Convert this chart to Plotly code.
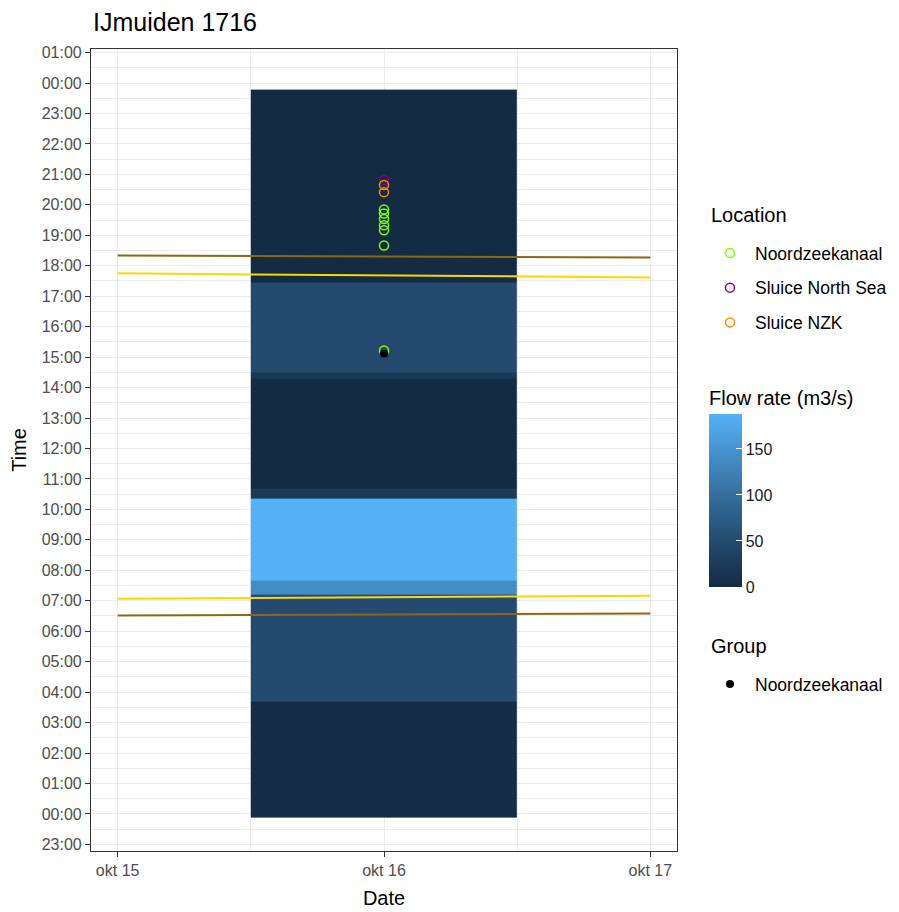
import pandas as pd
import plotly.graph_objects as go

# ---------------- data ----------------
title_text = "IJmuiden 1716"
day_ticks = ["2023-10-15", "2023-10-16", "2023-10-17"]
day_labels = ["okt 15", "okt 16", "okt 17"]
half_days = ["2023-10-15 12:00", "2023-10-16 12:00"]

# flow-rate tiles on okt 16 (edges in minutes after midnight, values m3/s)
tile_x_edges = ["2023-10-15 12:00", "2023-10-16 12:00"]
tile_edges_min = [-7, 222, 433, 460, 622, 641, 857, 869, 1046, 1427]
tile_flow = [2, 50, 139, 188, 25, 0, 22, 50, 0]

# observation points (minutes after midnight) on okt 16
obs_date = "2023-10-16"
noord_min = [1191, 1183, 1172, 1160, 1150, 1120, 913]
north_sea_min = [1249]
sluice_nzk_min = [1239, 1225]
group_min = [907]

# tide lines: start okt 15 -> end okt 17 (minutes after midnight)
line_x = ["2023-10-15", "2023-10-17"]
hw_brown_upper = [1100, 1096]
hw_gold_upper = [1065, 1057]
lw_gold_lower = [424, 430]
lw_brown_lower = [391, 395]

# ---------------- helpers ----------------
BASE = pd.Timestamp("2000-01-01")


def tod(mins):
    return [(BASE + pd.Timedelta(minutes=m)).strftime("%Y-%m-%d %H:%M:%S") for m in mins]


def hex2rgb(h):
    h = h.lstrip("#")
    return [int(h[i:i + 2], 16) for i in (0, 2, 4)]


def rgb2lab(rgb):
    def lin(c):
        c = c / 255
        return c / 12.92 if c <= 0.04045 else ((c + 0.055) / 1.055) ** 2.4
    r, g, b = [lin(c) for c in rgb]
    X = 0.4124 * r + 0.3576 * g + 0.1805 * b
    Y = 0.2126 * r + 0.7152 * g + 0.0722 * b
    Z = 0.0193 * r + 0.1192 * g + 0.9505 * b
    def f(t):
        return t ** (1 / 3) if t > (6 / 29) ** 3 else t / (3 * (6 / 29) ** 2) + 4 / 29
    fx, fy, fz = f(X / 0.95047), f(Y), f(Z / 1.08883)
    return [116 * fy - 16, 500 * (fx - fy), 200 * (fy - fz)]


def lab2rgb(lab):
    L, a, b = lab
    fy = (L + 16) / 116
    fx = fy + a / 500
    fz = fy - b / 200
    def finv(t):
        return t ** 3 if t > 6 / 29 else 3 * (6 / 29) ** 2 * (t - 4 / 29)
    X, Y, Z = 0.95047 * finv(fx), finv(fy), 1.08883 * finv(fz)
    r = 3.2406 * X - 1.5372 * Y - 0.4986 * Z
    g = -0.9689 * X + 1.8758 * Y + 0.0415 * Z
    bb = 0.0557 * X - 0.2040 * Y + 1.0570 * Z
    def gam(c):
        c = 12.92 * c if c <= 0.0031308 else 1.055 * c ** (1 / 2.4) - 0.055
        return max(0, min(255, round(c * 255)))
    return "rgb(%d,%d,%d)" % (gam(r), gam(g), gam(bb))


lo, hi = rgb2lab(hex2rgb("#132B43")), rgb2lab(hex2rgb("#56B1F7"))
n = 12
colorscale = [[i / (n - 1), lab2rgb([lo[k] + (hi[k] - lo[k]) * i / (n - 1) for k in range(3)])]
              for i in range(n)]

FONT = "Liberation Sans, Arial, sans-serif"

# panel position on the page (page has an 8px body margin)
PL, PR, PT, PB = 91, 677, 49, 851
OFF = 8


def px(xp):
    return (xp - PL) / (PR - PL)


def py(yp):
    return (PB - yp) / (PB - PT)


fig = go.Figure()

# tiles
fig.add_trace(go.Heatmap(
    x=tile_x_edges, y=tod(tile_edges_min), z=[[v] for v in tile_flow],
    colorscale=colorscale, zmin=0, zmax=188, showscale=True,
    colorbar=dict(
        title=dict(text="Flow rate (m3/s)", side="top", font=dict(size=20, family=FONT, color="#000")),
        x=px(709), xanchor="left", xpad=0, ypad=0,
        y=py(587), yanchor="bottom",
        lenmode="pixels", len=200, thickness=33, outlinewidth=0,
        tickvals=[0, 50, 100, 150], ticks="inside", ticklen=6, tickcolor="white",
        tickwidth=1.2, tickfont=dict(size=16, family=FONT, color="#1a1a1a"),
    ),
    hoverinfo="skip",
))

# tide lines
for yv, col in [(hw_brown_upper, "#8B6914"), (hw_gold_upper, "#FFD700"),
                (lw_gold_lower, "#FFD700"), (lw_brown_lower, "#8B6914")]:
    fig.add_trace(go.Scatter(x=line_x, y=tod(yv), mode="lines",
                             line=dict(color=col, width=2), showlegend=False, hoverinfo="skip"))

# location points
for name, mins, col in [("Noordzeekanaal", noord_min, "#7FFF00"),
                        ("Sluice North Sea", north_sea_min, "#8B008B"),
                        ("Sluice NZK", sluice_nzk_min, "#FF8C00")]:
    fig.add_trace(go.Scatter(
        x=[obs_date] * len(mins), y=tod(mins), mode="markers", name=name,
        legend="legend", legendgroup=name,
        marker=dict(symbol="circle-open", size=9, color=col, line=dict(width=1.5, color=col)),
    ))

# group point
fig.add_trace(go.Scatter(
    x=[obs_date] * len(group_min), y=tod(group_min), mode="markers", name="Noordzeekanaal",
    legend="legend2", marker=dict(symbol="circle", size=8, color="black"),
))

grid = "#EBEBEB"
axis_common = dict(
    showline=True, mirror=True, linecolor="#333333", linewidth=1.2,
    ticks="outside", ticklen=5, tickcolor="#333333", tickwidth=1.2,
    tickfont=dict(size=16, family=FONT, color="#4D4D4D"),
    showgrid=True, gridcolor=grid, gridwidth=1.2, zeroline=False, automargin=False,
)

fig.update_layout(
    width=899, height=912,
    margin=dict(l=PL - OFF, r=899 - (PR - OFF), t=PT - OFF, b=912 - (PB - OFF)),
    paper_bgcolor="white", plot_bgcolor="white",
    font=dict(family=FONT, color="#000"),
    title=dict(text=title_text, x=(93 - OFF) / 899, xanchor="left", xref="container",
               y=1 - (22 - OFF) / 912, yanchor="middle", yref="container",
               font=dict(size=25, family=FONT, color="#000")),
    xaxis=dict(
        type="date",
        range=["2023-10-14 21:36", "2023-10-17 02:24"],
        tickmode="array", tickvals=day_ticks, ticktext=day_labels,
        minor=dict(tickmode="array", tickvals=half_days, showgrid=True, gridcolor=grid,
                   gridwidth=0.7, ticks=""),
        title=dict(text="Date", font=dict(size=20, family=FONT, color="#000"), standoff=12),
        **axis_common,
    ),
    yaxis=dict(
        type="date",
        range=[tod([-73])[0], tod([1507])[0]],
        tick0=tod([0])[0], dtick=3600000, tickformat="%H:%M",
        minor=dict(dtick=1800000, tick0=tod([30])[0], showgrid=True, gridcolor=grid,
                   gridwidth=0.7, ticks=""),
        title=dict(text="Time", font=dict(size=20, family=FONT, color="#000"), standoff=11),
        **axis_common,
    ),
    legend=dict(
        x=px(705), xanchor="left", y=py(235), yanchor="top",
        traceorder="grouped", tracegroupgap=9, itemwidth=40,
        font=dict(size=17.5, family=FONT, color="#000"), bgcolor="rgba(0,0,0,0)",
    ),
    legend2=dict(
        x=px(705), xanchor="left", y=py(666), yanchor="top", itemwidth=40,
        font=dict(size=17.5, family=FONT, color="#000"), bgcolor="rgba(0,0,0,0)",
    ),
    annotations=[
        dict(text="Location", xref="paper", yref="paper", x=px(709), y=py(215),
             xanchor="left", yanchor="middle", showarrow=False,
             font=dict(size=20, family=FONT, color="#000")),
        dict(text="Group", xref="paper", yref="paper", x=px(709), y=py(646),
             xanchor="left", yanchor="middle", showarrow=False,
             font=dict(size=20, family=FONT, color="#000")),
    ],
)

fig.write_html("out.html")
